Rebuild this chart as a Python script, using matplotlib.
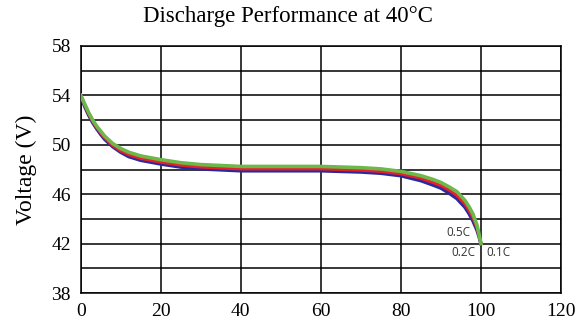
import matplotlib
matplotlib.use('Agg')
import matplotlib.pyplot as plt
import numpy as np

# capacity (%) sample points
capacity = [0, 1, 2, 3, 4, 5, 6, 8, 10, 12, 15, 20, 25, 30, 40, 50, 60, 70, 75,
            80, 85, 88, 90, 92, 94, 96, 97, 98, 99, 99.5, 100]

volt_01c = [54.0, 53.3, 52.6, 52.0, 51.5, 51.1, 50.7, 50.1, 49.7, 49.4, 49.1, 48.8,
            48.55, 48.4, 48.25, 48.25, 48.25, 48.15, 48.05, 47.85, 47.5, 47.2, 46.95,
            46.6, 46.2, 45.5, 45.0, 44.4, 43.5, 42.8, 42.0]
volt_02c = [54.0, 53.2, 52.5, 51.9, 51.4, 50.95, 50.55, 49.95, 49.5, 49.2, 48.9, 48.6,
            48.35, 48.2, 48.05, 48.05, 48.05, 47.95, 47.85, 47.65, 47.3, 46.95, 46.7,
            46.35, 45.9, 45.2, 44.7, 44.1, 43.3, 42.7, 42.0]
volt_05c = [54.0, 53.1, 52.4, 51.8, 51.3, 50.85, 50.45, 49.85, 49.4, 49.05, 48.75, 48.45,
            48.2, 48.05, 47.9, 47.9, 47.9, 47.8, 47.7, 47.5, 47.1, 46.75, 46.5,
            46.1, 45.65, 44.95, 44.45, 43.85, 43.1, 42.6, 42.0]

x_ticks = [0, 20, 40, 60, 80, 100, 120]
y_ticks = [38, 42, 46, 50, 54, 58]

serif = ['Liberation Serif', 'DejaVu Serif']
sans = ['Open Sans', 'DejaVu Sans']

fig = plt.figure(figsize=(5.85, 3.26), dpi=100)
ax = fig.add_axes([0.138, 0.101, 0.821, 0.758])

for y in np.arange(38, 59, 2):
    ax.axhline(y, color='black', lw=1.1, zorder=1)
for x in x_ticks:
    ax.axvline(x, color='black', lw=1.1, zorder=1)

ax.plot(capacity, volt_05c, color='#2a2a9c', lw=2.6, zorder=3)
ax.plot(capacity, volt_02c, color='#e8202a', lw=2.2, zorder=4)
ax.plot(capacity, volt_01c, color='#6cb84a', lw=2.6, zorder=5)

ax.text(97.3, 42.35, '0.5C', fontsize=8.5, color='#333333', ha='right', va='bottom', family=sans)
ax.text(98.6, 41.85, '0.2C', fontsize=8.5, color='#333333', ha='right', va='top', family=sans)
ax.text(101.3, 41.85, '0.1C', fontsize=8.5, color='#333333', ha='left', va='top', family=sans)

ax.set_xlim(0, 120)
ax.set_ylim(38, 58)
ax.set_xticks(x_ticks)
ax.set_yticks(y_ticks)
ax.tick_params(length=0, pad=7, labelsize=14)
for lab in ax.get_xticklabels() + ax.get_yticklabels():
    lab.set_family(serif)
for s in ax.spines.values():
    s.set_linewidth(1.1)

ax.set_ylabel('Voltage (V)', fontsize=17, family=serif, labelpad=10)
fig.text(0.492, 0.933, 'Discharge Performance at 40°C', fontsize=16.5, family=serif,
         ha='center', va='baseline')

fig.savefig('out.png', dpi=100)
